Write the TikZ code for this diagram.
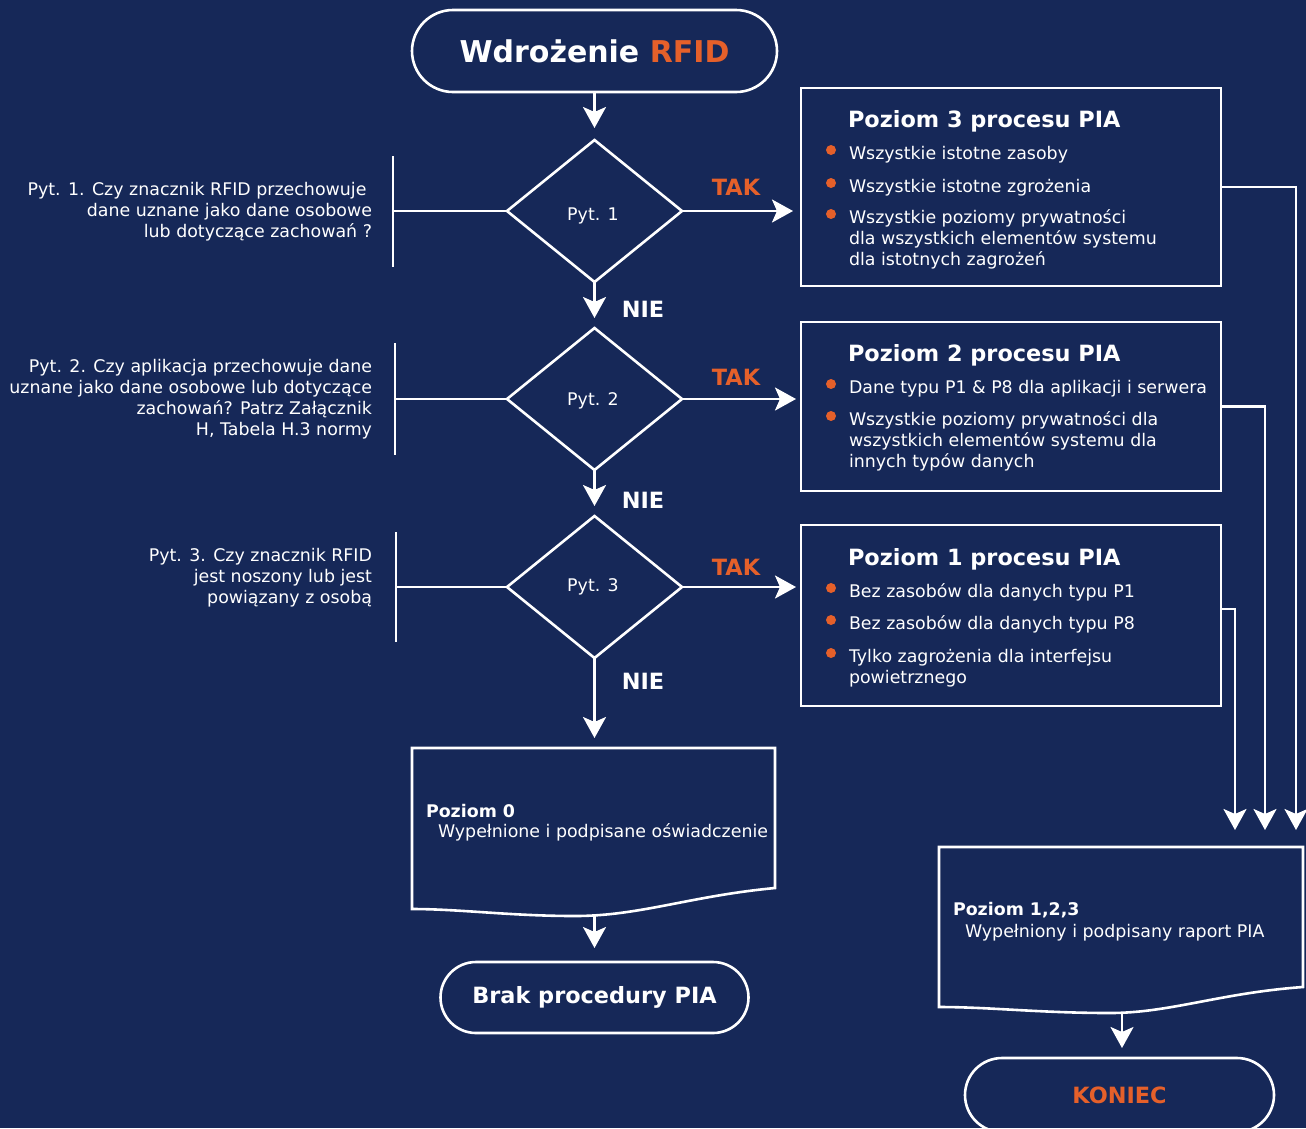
\documentclass[tikz,border=0pt]{standalone}
\usepackage{fontspec}
\setmainfont{DejaVu Sans}
\usetikzlibrary{arrows.meta,shapes.geometric}
\definecolor{navy}{RGB}{22,40,88}
\definecolor{accent}{RGB}{229,96,42}
\newcommand\fbody{\fontsize{17.4}{21}\selectfont}
\newcommand\fbold{\fontsize{17.4}{21}\selectfont\bfseries}
\newcommand\ftitle{\fontsize{22.4}{27}\selectfont\bfseries}
\newcommand\fbig{\fontsize{30}{36}\selectfont\bfseries}

\begin{document}
\begin{tikzpicture}[x=1pt,y=-1pt,
  every node/.style={inner sep=0pt, outer sep=0pt, text=white},
  plain/.style={draw=white, line width=2.6pt},
  flow/.style={plain, -{Stealth[length=21pt,width=23pt,inset=5pt]}},
  terminal/.style={draw=white, line width=2.6pt, rectangle},
  decision/.style={diamond, draw=white, line width=2.6pt, minimum width=175pt, minimum height=142pt},
  panel/.style={draw=white, line width=2.6pt, rectangle, minimum width=420pt},
  bodytext/.style={font=\fbody, anchor=base west, align=left},
  question/.style={font=\fbody, anchor=base east, align=right},
  yes/.style={font=\ftitle, text=accent},
  no/.style={font=\ftitle},
  dot/.style={fill=accent}
]
\useasboundingbox (0,0) rectangle (1306,1128);
\clip (0,0) rectangle (1306,1128);
\fill[navy] (0,0) rectangle (1306,1128);

% start
\node[terminal, rounded corners=41pt, minimum width=365pt, minimum height=82pt, font=\fbig]
  (start) at (594.5,51) {Wdrożenie \textcolor{accent}{RFID}};

% decisions
\node[decision] (d1) at (594.5,211) {};
\node[decision] (d2) at (594.5,399) {};
\node[decision] (d3) at (594.5,587) {};
\node[font=\fbody] (p1) at (593,216) {Pyt. 1};
\node[font=\fbody] (p2) at (593,401) {Pyt. 2};
\node[font=\fbody] (p3) at (593,587) {Pyt. 3};

% questions with brackets (multi-line nodes are placed by their last baseline)
\node[question] (q1) at (372,237) {Pyt. 1. Czy znacznik RFID przechowuje\hspace*{0.32em}\\dane uznane jako dane osobowe\hspace*{0.32em}\\lub dotyczące zachowań ?};
\node[question] (q2) at (372,435) {Pyt. 2. Czy aplikacja przechowuje dane\\uznane jako dane osobowe lub dotyczące\\zachowań? Patrz Załącznik\\H, Tabela H.3 normy};
\node[question] (q3) at (372,603) {Pyt. 3. Czy znacznik RFID\\jest noszony lub jest\\powiązany z osobą};

\coordinate (b1t) at (393,156); \coordinate (b1b) at (393,267);
\coordinate (b2t) at (395,343); \coordinate (b2b) at (395,455);
\coordinate (b3t) at (396,532); \coordinate (b3b) at (396,642);
\draw[plain] (b1t) -- (b1b);
\draw[plain] (b1t |- d1) -- (d1.west);
\draw[plain] (b2t) -- (b2b);
\draw[plain] (b2t |- d2) -- (d2.west);
\draw[plain] (b3t) -- (b3b);
\draw[plain] (b3t |- d3) -- (d3.west);

% level panels
\node[panel, minimum height=198pt] (box3) at (1011,187) {};
\node[panel, minimum height=169pt] (box2) at (1011,406.5) {};
\node[panel, minimum height=181pt] (box1) at (1011,615.5) {};

\node[font=\ftitle, anchor=base west] (h3) at (848,127) {Poziom 3 procesu PIA};
\fill[dot] (831,150) circle (5pt);
\fill[dot] (831,183) circle (5pt);
\fill[dot] (831,214) circle (5pt);
\node[bodytext] (i31) at (849,159) {Wszystkie istotne zasoby};
\node[bodytext] (i32) at (849,192) {Wszystkie istotne zgrożenia};
\node[bodytext] (i33) at (849,265) {Wszystkie poziomy prywatności\\dla wszystkich elementów systemu\\dla istotnych zagrożeń};

\node[font=\ftitle, anchor=base west] (h2) at (848,361) {Poziom 2 procesu PIA};
\fill[dot] (831,384) circle (5pt);
\fill[dot] (831,416) circle (5pt);
\node[bodytext] (i21) at (849,393) {Dane typu P1 \& P8 dla aplikacji i serwera};
\node[bodytext] (i22) at (849,467) {Wszystkie poziomy prywatności dla\\wszystkich elementów systemu dla\\innych typów danych};

\node[font=\ftitle, anchor=base west] (h1) at (848,565) {Poziom 1 procesu PIA};
\fill[dot] (831,588) circle (5pt);
\fill[dot] (831,620) circle (5pt);
\fill[dot] (831,653) circle (5pt);
\node[bodytext] (i11) at (849,597) {Bez zasobów dla danych typu P1};
\node[bodytext] (i12) at (849,629) {Bez zasobów dla danych typu P8};
\node[bodytext] (i13) at (849,683) {Tylko zagrożenia dla interfejsu\\powietrznego};

% flow down the middle
\draw[flow, shorten >=12pt] (start) -- (d1);
\draw[flow, shorten >=10pt] (d1) -- (d2);
\draw[flow, shorten >=10pt] (d2) -- (d3);
\node[no] (n1) at (643,309) {NIE};
\node[no] (n2) at (643,500) {NIE};
\node[no] (n3) at (643,681) {NIE};

% yes branches
\draw[flow, shorten >=8pt] (d1.east) -- (d1.east -| box3.west);
\draw[flow, shorten >=5pt] (d2.east) -- (d2.east -| box2.west);
\draw[flow, shorten >=5pt] (d3.east) -- (d3.east -| box1.west);
\node[yes] (t1) at (736,187) {TAK};
\node[yes] (t2) at (736,377) {TAK};
\node[yes] (t3) at (736,567) {TAK};

% level 0 document
\coordinate (doc0top) at (594.5,748);
\coordinate (doc0b) at (594.5,915);
\draw[plain] (412,748) -- (775,748) -- (775,888)
  .. controls (690,896) and (640,916) .. (575,916)
  .. controls (510,916) and (460,909) .. (412,909) -- cycle;
\node[font=\fbold, anchor=base west] (doc0h) at (426,817) {Poziom 0};
\node[font=\fbody, anchor=base west] (doc0t) at (438,837) {Wypełnione i podpisane oświadczenie};
\draw[flow, shorten >=10pt] (d3) -- (doc0top);

\node[terminal, rounded corners=35.5pt, minimum width=308pt, minimum height=71pt, font=\ftitle]
  (end0) at (594.5,997.5) {Brak procedury PIA};
\draw[flow, shorten >=14pt] (doc0b) -- (end0.north);

% level 1,2,3 document
\coordinate (in3) at (1296,847);
\coordinate (in2) at (1265,847);
\coordinate (in1) at (1235,847);
\draw[flow, shorten >=17pt] (box3.east) -| (in3);
\draw[flow, shorten >=17pt] (box2.east) -| (in2);
\draw[flow, shorten >=17pt] ([yshift=6.5pt]box1.east) -| (in1);

\draw[plain] (939,847) -- (1303,847) -- (1303,987)
  .. controls (1220,993) and (1170,1013) .. (1110,1013)
  .. controls (1040,1013) and (990,1007) .. (939,1007) -- cycle;
\coordinate (doc1b) at (1122,1013);
\node[font=\fbold, anchor=base west] (doc1h) at (953,915) {Poziom 1,2,3};
\node[font=\fbody, anchor=base west] (doc1t) at (965,937) {Wypełniony i podpisany raport PIA};

\node[terminal, rounded corners=37pt, minimum width=309pt, minimum height=74pt, font=\ftitle, text=accent]
  (end1) at (1119.5,1095) {KONIEC};
\draw[flow, shorten >=10pt] (doc1b) -- (doc1b |- end1.north);
\end{tikzpicture}
\end{document}
